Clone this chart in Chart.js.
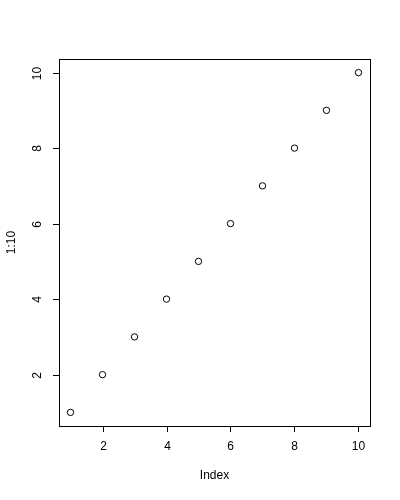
<!DOCTYPE html>
<html>
<head>
<meta charset="utf-8">
<script src="https://cdn.jsdelivr.net/npm/chart.js@4/dist/chart.umd.min.js"></script>
<style>
  html, body { margin: 0; padding: 0; background: #fff; }
  canvas { display: block; }
</style>
</head>
<body>
<canvas id="plot" width="400" height="500"></canvas>
<script>
// data
const indexValues = [1, 2, 3, 4, 5, 6, 7, 8, 9, 10];
const seriesValues = [1, 2, 3, 4, 5, 6, 7, 8, 9, 10];
const xTicks = [2, 4, 6, 8, 10];
const yTicks = [2, 4, 6, 8, 10];
const xTitle = 'Index';
const yTitle = '1:10';

const FONT = '12px "Liberation Sans", Arial, sans-serif';

// R style box, ticks and labels drawn from the chart's scales
const rAxes = {
    id: 'rAxes',
    afterDraw(chart) {
        const ctx = chart.ctx;
        const a = chart.chartArea;
        const xs = chart.scales.x;
        const ys = chart.scales.y;
        ctx.save();
        ctx.strokeStyle = '#000';
        ctx.lineWidth = 1;
        ctx.strokeRect(Math.round(a.left) + 0.5, Math.round(a.top) + 0.5,
            Math.round(a.right - a.left), Math.round(a.bottom - a.top));

        ctx.fillStyle = '#000';
        ctx.font = FONT;

        // x axis ticks
        ctx.textAlign = 'center';
        ctx.textBaseline = 'middle';
        xTicks.forEach(v => {
            const px = Math.round(xs.getPixelForValue(v)) + 0.5;
            ctx.beginPath();
            ctx.moveTo(px, a.bottom);
            ctx.lineTo(px, a.bottom + 6);
            ctx.stroke();
            ctx.fillText(String(v), px, a.bottom + 21);
        });
        ctx.fillText(xTitle, (a.left + a.right) / 2, a.bottom + 50);

        // y axis ticks (labels rotated like R)
        yTicks.forEach(v => {
            const py = Math.round(ys.getPixelForValue(v)) + 0.5;
            ctx.beginPath();
            ctx.moveTo(a.left, py);
            ctx.lineTo(a.left - 6, py);
            ctx.stroke();
            ctx.save();
            ctx.translate(a.left - 21, py);
            ctx.rotate(-Math.PI / 2);
            ctx.fillText(String(v), 0, 0);
            ctx.restore();
        });
        ctx.save();
        ctx.translate(a.left - 47, (a.top + a.bottom) / 2);
        ctx.rotate(-Math.PI / 2);
        ctx.fillText(yTitle, 0, 0);
        ctx.restore();

        ctx.restore();
    }
};

const pad = 0.04 * (indexValues[indexValues.length - 1] - indexValues[0]);

new Chart(document.getElementById('plot'), {
    type: 'scatter',
    data: {
        datasets: [{
            data: indexValues.map((x, i) => ({ x: x, y: seriesValues[i] })),
            pointStyle: 'circle',
            pointRadius: 3.2,
            pointBorderWidth: 1,
            pointBorderColor: '#000',
            pointBackgroundColor: 'rgba(0,0,0,0)'
        }]
    },
    options: {
        responsive: false,
        animation: false,
        layout: { padding: { left: 59, top: 59, right: 30, bottom: 74 } },
        plugins: { legend: { display: false }, tooltip: { enabled: false } },
        scales: {
            x: { type: 'linear', display: false, min: 1 - pad, max: 10 + pad },
            y: { type: 'linear', display: false, min: 1 - pad, max: 10 + pad }
        }
    },
    plugins: [rAxes]
});
</script>
</body>
</html>
